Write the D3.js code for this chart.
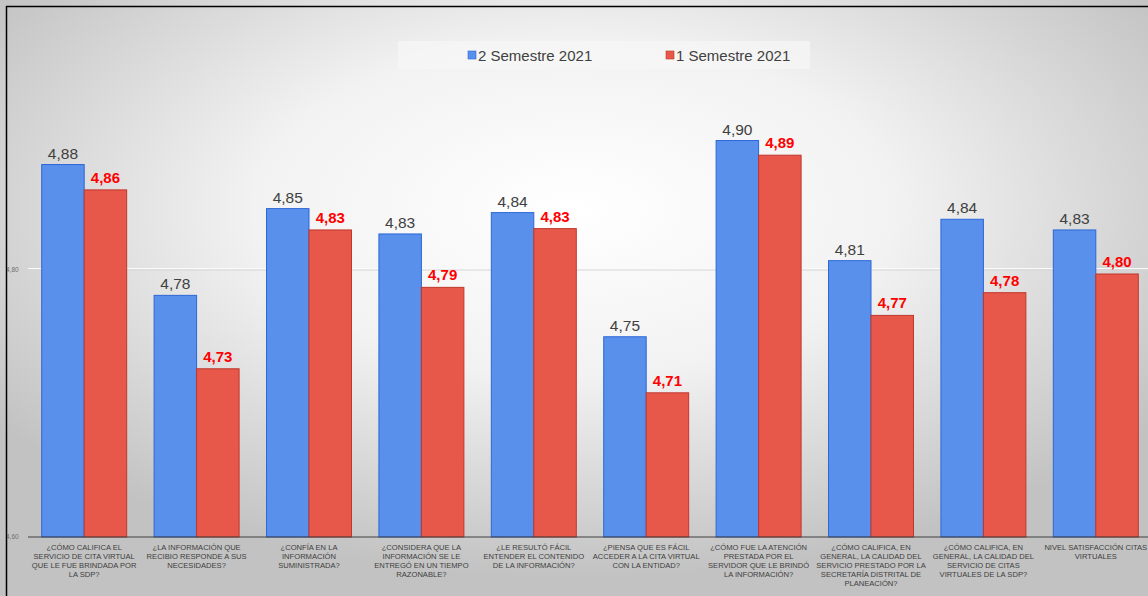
<!DOCTYPE html>
<html><head><meta charset="utf-8">
<script src="https://cdn.jsdelivr.net/npm/d3@7"></script>
<style>html,body{margin:0;padding:0;background:#fff;}svg{display:block;}</style>
</head><body>
<svg id="c" width="1148" height="596"></svg>
<script>
const categories = [
  ["¿CÓMO CALIFICA EL","SERVICIO DE CITA VIRTUAL","QUE LE FUE BRINDADA POR","LA SDP?"],
  ["¿LA INFORMACIÓN QUE","RECIBIO RESPONDE A SUS","NECESIDADES?"],
  ["¿CONFÍA EN LA","INFORMACIÓN","SUMINISTRADA?"],
  ["¿CONSIDERA QUE LA","INFORMACIÓN SE LE","ENTREGÓ EN UN TIEMPO","RAZONABLE?"],
  ["¿LE RESULTÓ FÁCIL","ENTENDER EL CONTENIDO","DE LA INFORMACIÓN?"],
  ["¿PIENSA QUE ES FÁCIL","ACCEDER A LA CITA VIRTUAL","CON LA ENTIDAD?"],
  ["¿CÓMO FUE LA ATENCIÓN","PRESTADA POR EL","SERVIDOR QUE LE BRINDÓ","LA INFORMACIÓN?"],
  ["¿CÓMO CALIFICA, EN","GENERAL, LA CALIDAD DEL","SERVICIO PRESTADO POR LA","SECRETARÍA DISTRITAL DE","PLANEACIÓN?"],
  ["¿CÓMO CALIFICA, EN","GENERAL, LA CALIDAD DEL","SERVICIO DE CITAS","VIRTUALES DE LA SDP?"],
  ["NIVEL SATISFACCIÓN CITAS","VIRTUALES"]
];
const seriesNames = ["2 Semestre 2021", "1 Semestre 2021"];
const sem2_2021 = [4.879, 4.781, 4.846, 4.827, 4.843, 4.750, 4.897, 4.807, 4.838, 4.830];
const sem1_2021 = [4.860, 4.726, 4.830, 4.787, 4.831, 4.708, 4.886, 4.766, 4.783, 4.797];
const yTicks = [4.60, 4.80];

const svg = d3.select("#c");
const W = 1148, H = 596;
const defs = svg.append("defs");
const rg = defs.append("radialGradient").attr("id","bg").attr("cx","50%").attr("cy","35%").attr("r","62%");
rg.append("stop").attr("offset","0%").attr("stop-color","#ffffff");
rg.append("stop").attr("offset","45%").attr("stop-color","#f2f2f2");
rg.append("stop").attr("offset","100%").attr("stop-color","#c2c2c2");
svg.append("rect").attr("width",W).attr("height",H).attr("fill","url(#bg)");

const x0 = d3.scaleBand().domain(d3.range(categories.length)).range([28, 1152]).paddingInner(0.244).paddingOuter(0.122);
const x1 = d3.scaleBand().domain([0,1]).range([0, x0.bandwidth()]);
const y = d3.scaleLinear().domain([4.60, 5.00]).range([537, 3]);
const fmt = v => v.toFixed(2).replace(".", ",");

// gridline
svg.append("g").selectAll("line").data(yTicks.filter(t => t > 4.6)).join("line")
  .attr("x1", 28).attr("x2", W).attr("y1", d => y(d)).attr("y2", d => y(d))
  .attr("stroke", "#d6d6d6").attr("stroke-width", 1);
svg.append("g").selectAll("line").data(yTicks.filter(t => t > 4.6)).join("line")
  .attr("x1", 28).attr("x2", W).attr("y1", d => y(d)-1.5).attr("y2", d => y(d)-1.5)
  .attr("stroke", "#fbfbfb").attr("stroke-width", 1);

// y labels
svg.append("g").selectAll("text").data(yTicks).join("text")
  .attr("x", 6).attr("y", d => y(d) + 2)
  .attr("font-family", "Liberation Sans, Arial, sans-serif").attr("font-size", 6.5)
  .attr("fill", "#707070").text(d => fmt(d));

const series = [sem2_2021, sem1_2021];
const fills = ["#5990EC", "#E8584A"];
const strokes = ["#2E67D6", "#C0362C"];

const g = svg.append("g");
series.forEach((vals, s) => {
  g.append("g").selectAll("rect").data(vals).join("rect")
    .attr("x", (d,i) => x0(i) + x1(s))
    .attr("y", d => y(d))
    .attr("width", x1.bandwidth())
    .attr("height", d => y(4.60) - y(d))
    .attr("fill", fills[s]).attr("stroke", strokes[s]).attr("stroke-width", 1);
});

// value labels
g.append("g").selectAll("text").data(sem2_2021).join("text")
  .attr("x", (d,i) => x0(i) + x1(0) + x1.bandwidth()/2)
  .attr("y", d => y(d) - 6)
  .attr("text-anchor", "middle")
  .attr("font-family", "Liberation Sans, Arial, sans-serif").attr("font-size", 15.5)
  .attr("fill", "#404040").text(d => fmt(d));
g.append("g").selectAll("text").data(sem1_2021).join("text")
  .attr("x", (d,i) => x0(i) + x1(1) + x1.bandwidth()/2)
  .attr("y", d => y(d) - 7)
  .attr("text-anchor", "middle")
  .attr("font-family", "Liberation Sans, Arial, sans-serif").attr("font-size", 15).attr("font-weight", "bold")
  .attr("fill", "#FF0000").text(d => fmt(d));

// baseline axis
svg.append("line").attr("x1", 28).attr("x2", W).attr("y1", y(4.60)).attr("y2", y(4.60))
  .attr("stroke", "#404040").attr("stroke-width", 1.2);

// category labels
const cl = svg.append("g").selectAll("text").data(categories).join("text")
  .attr("text-anchor", "middle")
  .attr("font-family", "Liberation Sans, Arial, sans-serif").attr("font-size", 7.6)
  .attr("fill", "#404040");
cl.each(function(lines, i) {
  const t = d3.select(this);
  lines.forEach((ln, k) => {
    t.append("tspan").attr("x", x0(i) + x0.bandwidth()/2).attr("y", 549.5 + k*9.2).text(ln);
  });
});

// legend
const lg = svg.append("g");
lg.append("rect").attr("x", 398).attr("y", 41).attr("width", 412).attr("height", 28).attr("fill", "#f6f6f6").attr("opacity", 0.7);
const legX = [468, 666];
seriesNames.forEach((n, s) => {
  lg.append("rect").attr("x", legX[s]).attr("y", 51).attr("width", 8).attr("height", 8)
    .attr("fill", fills[s]).attr("stroke", strokes[s]).attr("stroke-width", 0.6);
  lg.append("text").attr("x", legX[s] + 10).attr("y", 60.5)
    .attr("font-family", "Liberation Sans, Arial, sans-serif").attr("font-size", 15)
    .attr("fill", "#404040").text(n);
});

// frame lines
svg.append("line").attr("x1", 6).attr("x2", W).attr("y1", 6.5).attr("y2", 6.5).attr("stroke", "#000").attr("stroke-width", 1.5);
svg.append("line").attr("x1", 6.5).attr("x2", 6.5).attr("y1", 6).attr("y2", H).attr("stroke", "#000").attr("stroke-width", 1.5);
</script>
</body></html>
